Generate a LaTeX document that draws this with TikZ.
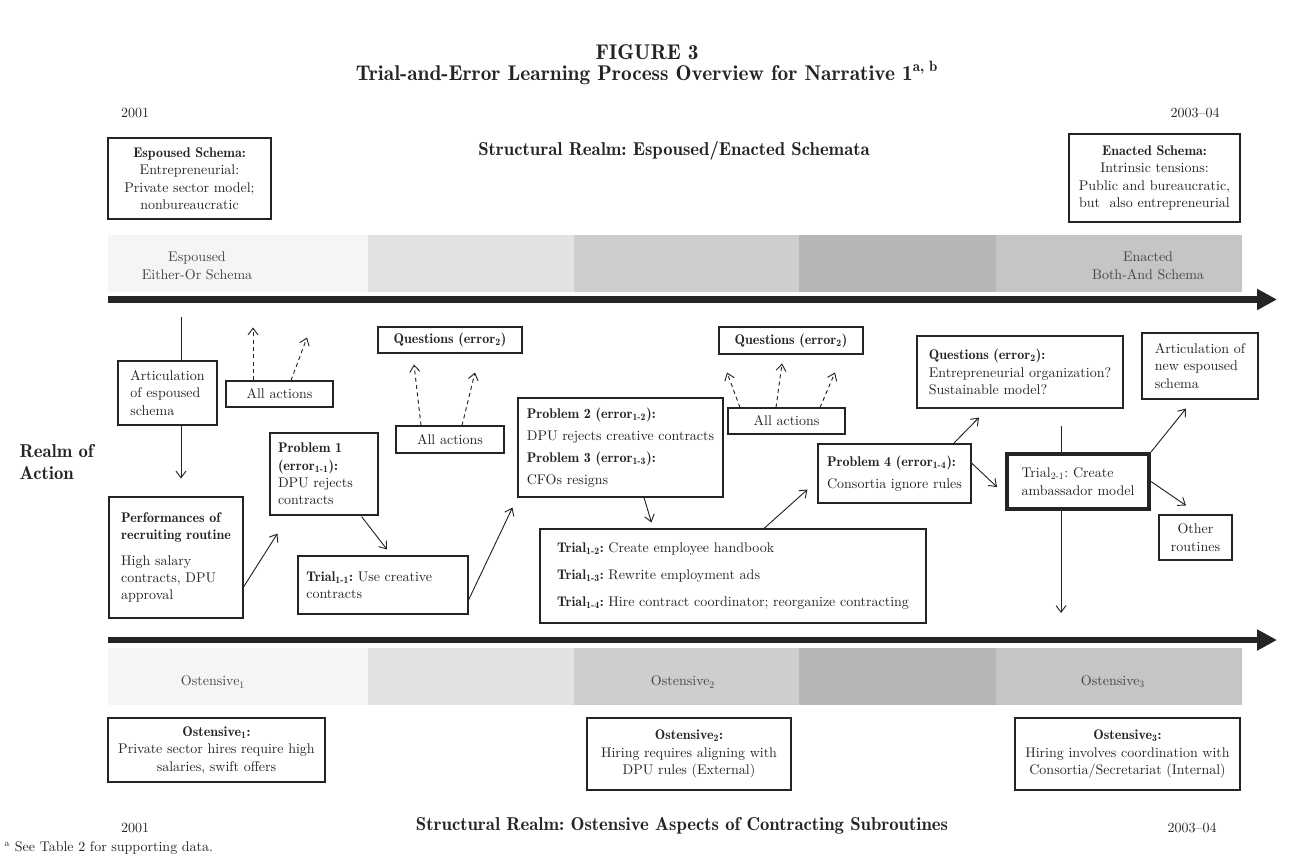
\documentclass[tikz,border=0pt]{standalone}
\usepackage{fontspec}
\usepackage{xcolor}
\setmainfont{lmroman10-regular}[Extension=.otf,BoldFont=lmromandemi10-regular,
 ItalicFont=lmroman10-italic,BoldItalicFont=lmromandemi10-oblique]
\usetikzlibrary{arrows.meta,calc,positioning}

\definecolor{ink}{HTML}{262324}
\definecolor{bandA}{HTML}{F4F5F5}
\definecolor{bandB}{HTML}{E1E2E3}
\definecolor{bandC}{HTML}{CDCECF}
\definecolor{bandD}{HTML}{B5B6B7}
\definecolor{bandE}{HTML}{C4C5C6}

\begin{document}
\frenchspacing
\begin{tikzpicture}[x=0.75pt,y=-0.75pt,>={Straight Barb[length=5pt,width=7.5pt]},
 every node/.style={font=\fontsize{10.5}{13.1}\selectfont,text=ink},
 box/.style 2 args={draw=ink,line width=0.8pt,inner sep=2pt,
 minimum width=#1*0.75pt,minimum height=#2*0.75pt},
 lbox/.style 2 args={box={#1}{#2},align=left},
 cbox/.style 2 args={box={#1}{#2},align=center},
 link/.style={->,line width=0.7pt,draw=ink},
 probe/.style={->,dash pattern=on 3pt off 2.5pt,line width=0.7pt,draw=ink},
 band/.style={text=ink!85,align=center},
 head/.style={font=\fontsize{14}{16}\selectfont\bfseries},
 timeline/.style={line width=5pt,draw=ink,-{Triangle[length=15pt,width=15pt]}}]
\useasboundingbox (0,0) rectangle (1294,856);

% shaded bands
\foreach \xa/\xb/\c in {108/368/bandA,368/574/bandB,574/799/bandC,799/996/bandD,996/1242/bandE}{
 \fill[\c] (\xa,235) rectangle (\xb,292);
 \fill[\c] (\xa,648) rectangle (\xb,705);
}
\coordinate (top0) at (108,299.5); \coordinate (top1) at (1277,299.5);
\coordinate (bot0) at (108,640); \coordinate (bot1) at (1277,640);
\draw[timeline] (top0) -- (top1);
\draw[timeline] (bot0) -- (bot1);

% header
\node[font=\fontsize{16}{18}\selectfont\bfseries] (fig) at (647,52) {FIGURE 3};
\node[font=\fontsize{16}{18}\selectfont\bfseries] (ttl) at (647,73) {Trial-and-Error Learning Process Overview for Narrative 1\textsuperscript{a, b}};
\node (y0) at (135,113) {2001};
\node (y1) at (1195,113) {2003--04};
\node[head] (sr1) at (674,151) {Structural Realm: Espoused/Enacted Schemata};
\node[cbox={163}{81}] (esp) at (189.5,178.5) {\textbf{Espoused Schema:}\\Entrepreneurial:\\Private sector model;\\nonbureaucratic};
\node[cbox={171}{88}] (enc) at (1154.5,178) {\textbf{Enacted Schema:}\\Intrinsic tensions:\\Public and bureaucratic,\\but~ also entrepreneurial};
\node[band] (bl1) at (197,266) {Espoused\\Either-Or Schema};
\node[band] (bl2) at (1148,266) {Enacted\\Both-And Schema};

% realm of action
\node[font=\fontsize{14}{16.5}\selectfont\bfseries,align=left,anchor=west] (roa) at (15,462) {Realm of\\Action};
\node[lbox={99}{64}] (art) at (167.5,393) {Articulation\\of espoused\\schema};
\node[cbox={107}{26}] (aa1) at (279.5,394) {All actions};
\node[cbox={144}{26}] (q1) at (450,340) {\textbf{Questions (error\textsubscript{2})}};
\node[cbox={108}{27}] (aa2) at (450,439.5) {All actions};
\node[lbox={108}{82},inner xsep=6pt,text width=69pt] (p1) at (324,474) {\textbf{Problem 1}\\\textbf{(error\textsubscript{1-1}):}\\DPU rejects\\contracts};
\node[lbox={134}{121}] (perf) at (176,557.5) {\textbf{Performances of}\\\textbf{recruiting routine}\\[6pt]High salary\\contracts, DPU\\approval};
\node[lbox={170}{58},inner xsep=6.25pt,text width=115pt] (t11) at (383,585) {\textbf{Trial\textsubscript{1-1}:} Use creative\\contracts};
\node[lbox={205}{99}] (p23) at (620.5,447.5) {\textbf{Problem 2 (error\textsubscript{1-2}):}\\[3.5pt]DPU rejects creative contracts\\[3.5pt]\textbf{Problem 3 (error\textsubscript{1-3}):}\\[3.5pt]CFOs resigns};
\node[lbox={386}{94}] (tr) at (733,576) {\textbf{Trial\textsubscript{1-2}:} Create employee handbook\\[7pt]\textbf{Trial\textsubscript{1-3}:} Rewrite employment ads\\[7pt]\textbf{Trial\textsubscript{1-4}:} Hire contract coordinator; reorganize contracting};
\node[cbox={144}{27}] (q2) at (791,340.5) {\textbf{Questions (error\textsubscript{2})}};
\node[cbox={117}{26}] (aa3) at (786.5,421) {All actions};
\node[lbox={153}{59}] (p4) at (894.5,473.5) {\textbf{Problem 4 (error\textsubscript{1-4}):}\\[3pt]Consortia ignore rules};
\node[lbox={206}{72}] (q3) at (1020,372) {\textbf{Questions (error\textsubscript{2}):}\\Entrepreneurial organization?\\Sustainable model?};
\node[lbox={142}{55},line width=3pt] (t21) at (1078,481.5) {Trial\textsubscript{2-1}: Create\\ambassador model};
\node[lbox={116}{66}] (nes) at (1200,366) {Articulation of\\new espoused\\schema};
\node[cbox={73}{45}] (oth) at (1195.5,537.5) {Other\\routines};

% ostensive aspects
\node[band] (ol1) at (213,682) {Ostensive\textsubscript{1}};
\node[band] (ol2) at (683,682) {Ostensive\textsubscript{2}};
\node[band] (ol3) at (1113,682) {Ostensive\textsubscript{3}};
\node[cbox={217}{64}] (o1) at (216.5,750) {\textbf{Ostensive\textsubscript{1}:}\\Private sector hires require high\\salaries, swift offers};
\node[cbox={204}{72}] (o2) at (689,754) {\textbf{Ostensive\textsubscript{2}:}\\Hiring requires aligning with\\DPU rules (External)};
\node[cbox={225}{72}] (o3) at (1127.5,754) {\textbf{Ostensive\textsubscript{3}:}\\Hiring involves coordination with\\Consortia/Secretariat (Internal)};
\node (y2) at (135,828) {2001};
\node (y3) at (1192,828) {2003--04};
\node[head] (sr2) at (682,826) {Structural Realm: Ostensive Aspects of Contracting Subroutines};
\node[anchor=west] (fn) at (0,848) {\textsuperscript{a} See Table 2 for supporting data.};

% connectors
\draw[line width=0.7pt,draw=ink] ([shift={(13.5,-43)}]art.north) -- ([shift={(13.5,0)}]art.north);
\draw[link] ([shift={(13.5,0)}]art.south) -- ([shift={(13.5,53)}]art.south);
\draw[probe] ([shift={(-26.5,0)}]aa1.north) -- ([shift={(-26.5,-53)}]aa1.north);
\draw[probe] ([shift={(11.5,0)}]aa1.north) -- ([shift={(27.5,-43)}]aa1.north);
\draw[probe] ([shift={(-29,0)}]aa2.north) -- ([shift={(-36,-61)}]aa2.north);
\draw[probe] ([shift={(12,0)}]aa2.north) -- ([shift={(25,-53)}]aa2.north);
\draw[probe] ([shift={(-46.5,0)}]aa3.north) -- ([shift={(-59.5,-35)}]aa3.north);
\draw[probe] ([shift={(-10.5,0)}]aa3.north) -- ([shift={(-4.5,-44)}]aa3.north);
\draw[probe] ([shift={(33.5,0)}]aa3.north) -- ([shift={(48.5,-35)}]aa3.north);
\draw[link] ([shift={(0,29.5)}]perf.east) -- ([shift={(8,18)}]p1.south west);
\draw[link] ([shift={(-17,1)}]p1.south east) -- ([shift={(4,-6)}]t11.north);
\draw[link] ([shift={(0,15)}]t11.east) -- ([shift={(-5,10)}]p23.south west);
\draw[link] ([shift={(23.5,0)}]p23.south) -- ([shift={(112,-6)}]tr.north west);
\draw[link] ([shift={(31,0)}]tr.north) -- ([shift={(-10,-14)}]p4.south west);
\draw[link] ([shift={(-18,0)}]p4.north east) -- ([shift={(-41,9)}]q3.south);
\draw[link] ([shift={(0,-10.5)}]p4.east) -- ([shift={(-8,5.5)}]t21.west);
\draw[line width=0.7pt,draw=ink] ([shift={(-17,-26)}]t21.north) -- ([shift={(-17,0)}]t21.north);
\draw[link] ([shift={(-17,0)}]t21.south) -- ([shift={(-17,102)}]t21.south);
\draw[link] (t21.north east) -- ([shift={(-14,9)}]nes.south);
\draw[link] (t21.east) -- ([shift={(-9.5,-9)}]oth.north);
\end{tikzpicture}
\end{document}
